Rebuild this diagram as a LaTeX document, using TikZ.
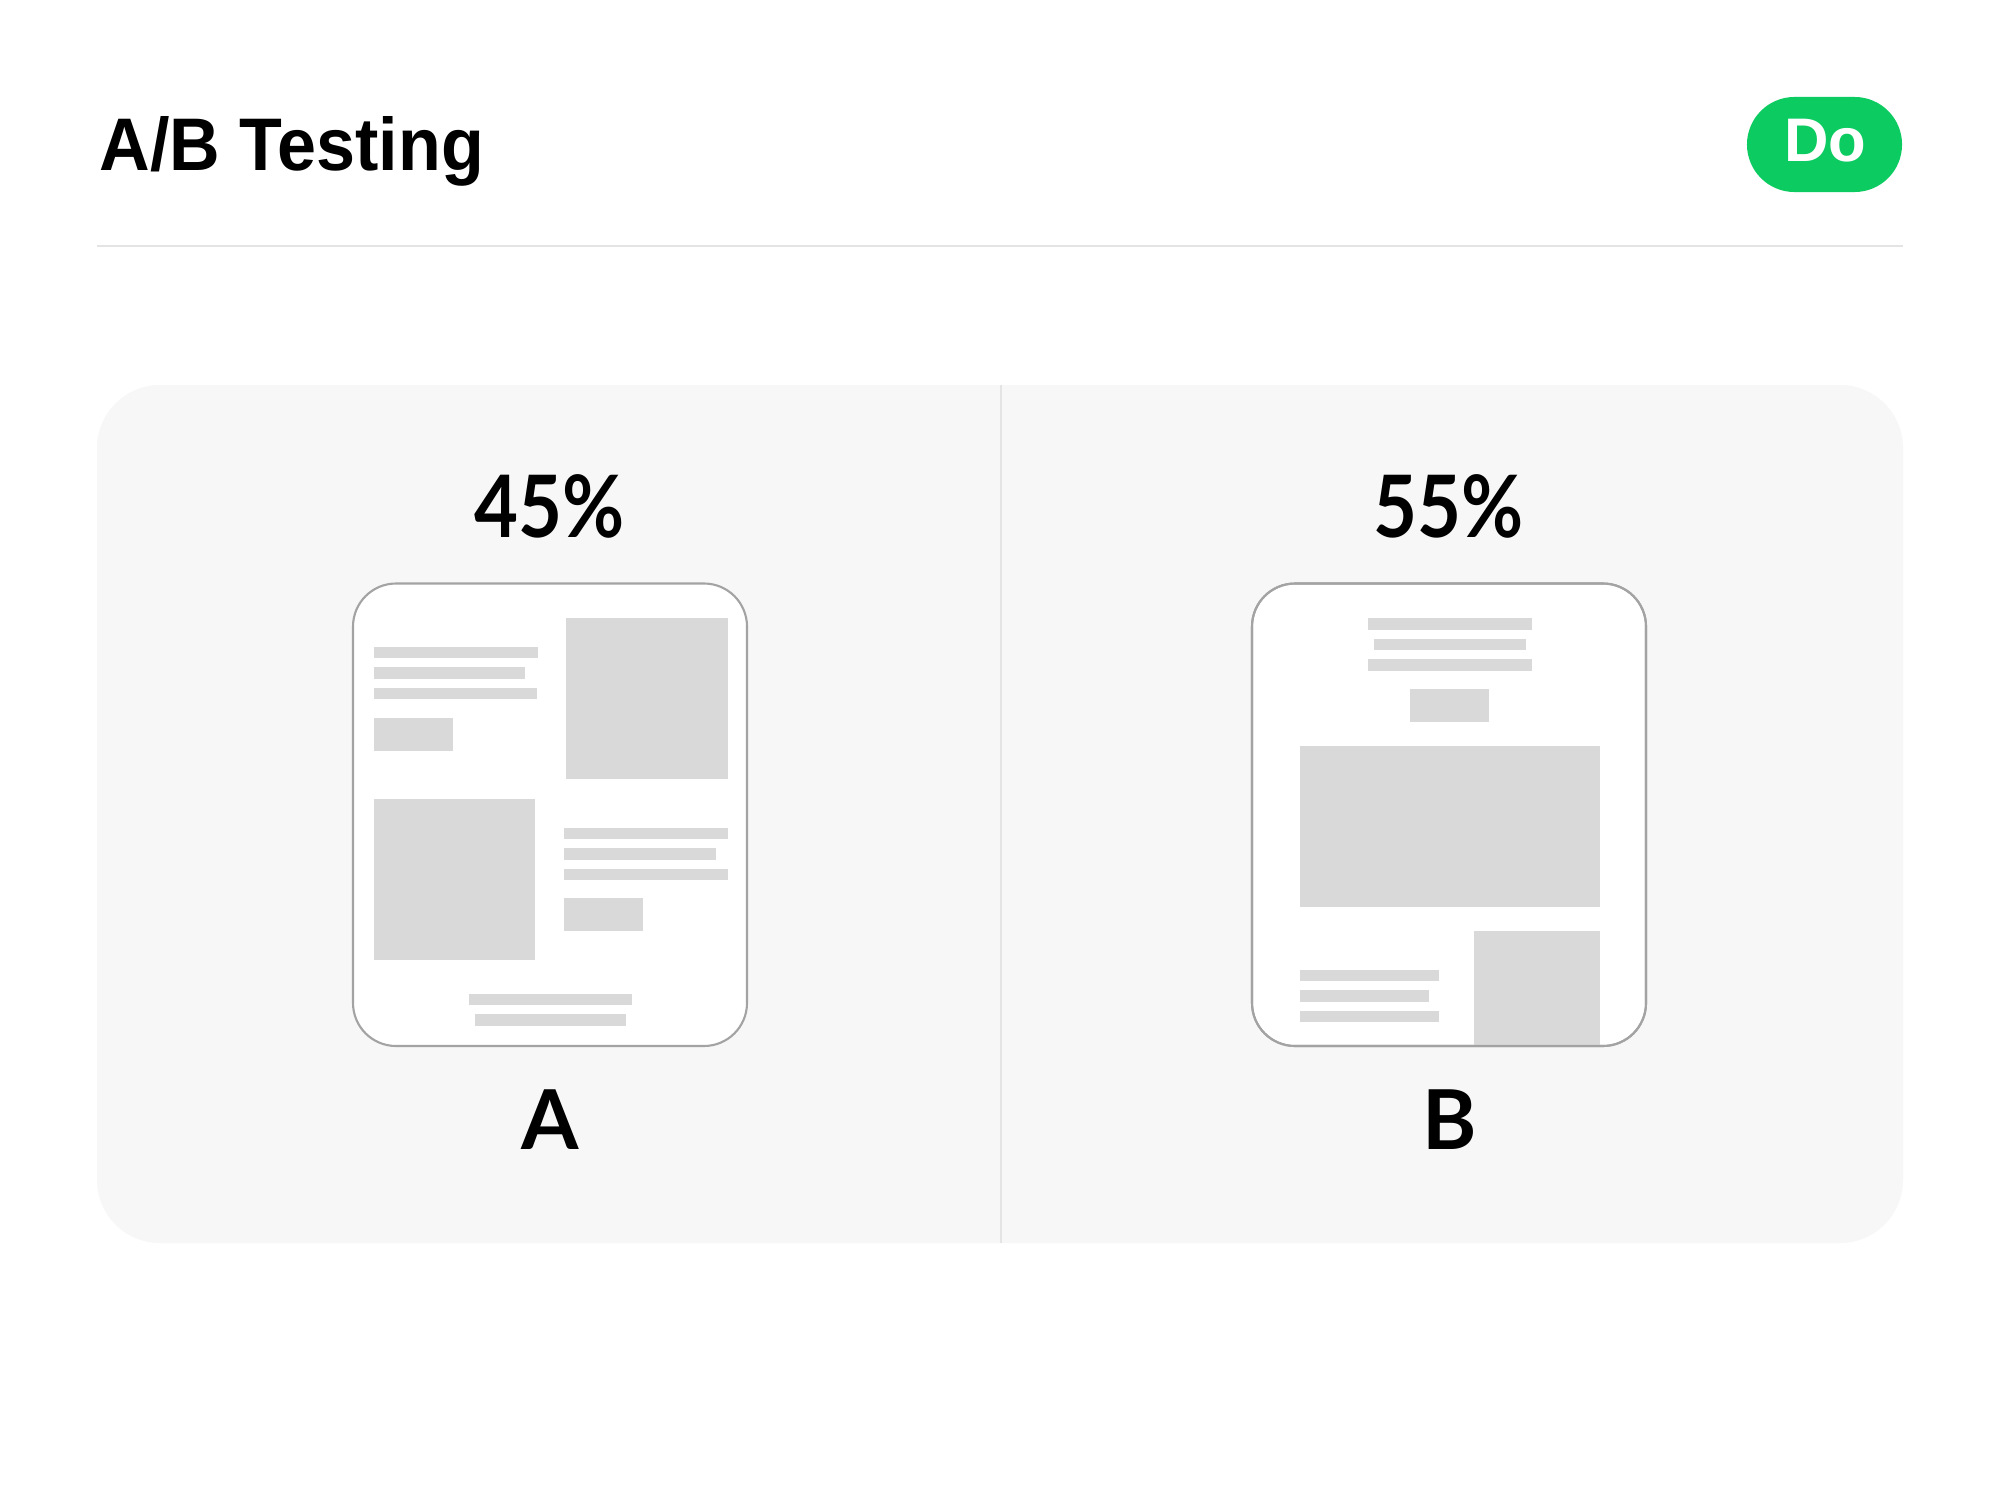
\documentclass[tikz,border=0pt]{standalone}
\usepackage{fontspec}
\setmainfont{Liberation Sans}
\newfontfamily\titlefont[FakeStretch=0.94]{Liberation Sans}
\newfontfamily\labfont{Lato}
\newfontfamily\pctfont[FakeStretch=0.88]{Lato}
\usepackage{xcolor}
\usepackage{tikz}
\definecolor{panelgray}{HTML}{F7F7F7}
\definecolor{blockgray}{HTML}{D9D9D9}
\definecolor{rulegray}{HTML}{E4E4E4}
\definecolor{cardline}{HTML}{A3A3A3}
\definecolor{dogreen}{HTML}{0BCB61}
\tikzset{
  blk/.style={fill=blockgray},
  card/.style={draw=cardline,line width=0.6pt,fill=white,rounded corners=0.43cm},
  pct/.style={anchor=base,inner sep=0pt,font=\pctfont\bfseries\fontsize{24.5}{28}\selectfont},
  lab/.style={anchor=base,inner sep=0pt,font=\labfont\bfseries\fontsize{23.5}{28}\selectfont},
  pill/.style={fill=dogreen,minimum width=1.55cm,minimum height=0.95cm,rounded corners=0.475cm,inner sep=0pt}
}

\begin{document}
\begin{tikzpicture}[x=0.01cm,y=-0.01cm]
  \useasboundingbox[fill=white] (0,0) rectangle (2000,1500);
  % header
  \node[anchor=base west,inner sep=0pt,font=\titlefont\bfseries\fontsize{21.2}{25}\selectfont] (title) at (99,170) {A/B Testing};
  \node[pill] (doPill) at (1824.5,144.5) {};
  \node[anchor=base,inner sep=0pt,text=white,font=\bfseries\fontsize{17.5}{20}\selectfont] (doLabel) at (1825,162) {Do};
  \draw[rulegray,line width=0.4pt] (97,246) -- (1903,246);
  % panel
  \fill[panelgray,rounded corners=0.63cm] (97,385) rectangle (1903,1243);
  \draw[rulegray,line width=0.5pt] (1001,385) -- (1001,1243);
  \node[pct] (pctA) at (550,537) {45\%};
  \node[pct] (pctB) at (1449,537) {55\%};
  \node[lab] (labA) at (550,1149) {A};
  \node[lab] (labB) at (1449.5,1149) {B};
  % card A
  \begin{scope}[shift={(353,583.5)}]
    \draw[card] (0,0) rectangle (394,462.5);
    \foreach \y/\r in {63/185,83.5/172,104/184}
      \fill[blk] (21,\y) rectangle (\r,\y+11.5);
    \fill[blk] (21,134) rectangle (100,167.5);
    \fill[blk] (213,34.5) rectangle (375,195.5);
    \fill[blk] (21,215) rectangle (182,376);
    \foreach \y/\r in {244/375,264.5/363,285/375}
      \fill[blk] (211,\y) rectangle (\r,\y+11.5);
    \fill[blk] (211,314.5) rectangle (290,347.5);
    \fill[blk] (116,410) rectangle (279,421.5);
    \fill[blk] (122,430.5) rectangle (273,442);
  \end{scope}
  % card B
  \begin{scope}[shift={(1252,583.5)}]
    \draw[card] (0,0) rectangle (394,462.5);
    \foreach \y/\l/\r in {34.5/116/280,55/122/274,75.5/116/280}
      \fill[blk] (\l,\y) rectangle (\r,\y+11.5);
    \fill[blk] (158,105) rectangle (237,138);
    \fill[blk] (48,162) rectangle (348,323.5);
    \fill[blk] (222,347.5) rectangle (348,462.2);
    \foreach \y/\r in {386/187,406.5/177,427/187}
      \fill[blk] (48,\y) rectangle (\r,\y+11.5);
    \draw[cardline,line width=0.6pt,rounded corners=0.43cm] (0,0) rectangle (394,462.5);
  \end{scope}
\end{tikzpicture}
\end{document}
